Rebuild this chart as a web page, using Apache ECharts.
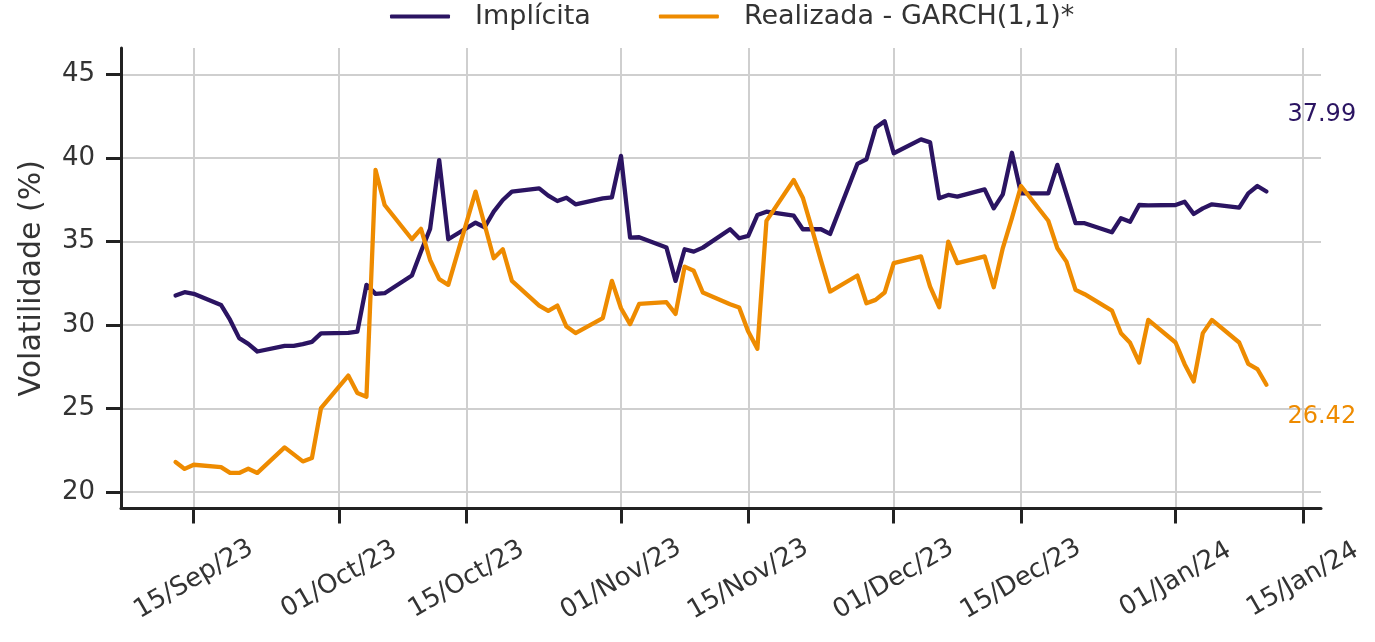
<!DOCTYPE html>
<html>
<head>
<meta charset="utf-8">
<script src="https://cdn.jsdelivr.net/npm/echarts@6/dist/echarts.min.js"></script>
<style>
  html, body { margin: 0; padding: 0; background: #ffffff; }
  #chart { width: 1375px; height: 642px; }
</style>
</head>
<body>
<div id="chart"></div>
<script>
// Trading days (weekdays) covered by the series
const dates = [
  '2023-09-13','2023-09-14','2023-09-15',
  '2023-09-18','2023-09-19','2023-09-20','2023-09-21','2023-09-22',
  '2023-09-25','2023-09-26','2023-09-27','2023-09-28','2023-09-29',
  '2023-10-02','2023-10-03','2023-10-04','2023-10-05','2023-10-06',
  '2023-10-09','2023-10-10','2023-10-11','2023-10-12','2023-10-13',
  '2023-10-16','2023-10-17','2023-10-18','2023-10-19','2023-10-20',
  '2023-10-23','2023-10-24','2023-10-25','2023-10-26','2023-10-27',
  '2023-10-30','2023-10-31','2023-11-01','2023-11-02','2023-11-03',
  '2023-11-06','2023-11-07','2023-11-08','2023-11-09','2023-11-10',
  '2023-11-13','2023-11-14','2023-11-15','2023-11-16','2023-11-17',
  '2023-11-20','2023-11-21','2023-11-22','2023-11-23','2023-11-24',
  '2023-11-27','2023-11-28','2023-11-29','2023-11-30','2023-12-01',
  '2023-12-04','2023-12-05','2023-12-06','2023-12-07','2023-12-08',
  '2023-12-11','2023-12-12','2023-12-13','2023-12-14','2023-12-15',
  '2023-12-18','2023-12-19','2023-12-20','2023-12-21','2023-12-22',
  '2023-12-25','2023-12-26','2023-12-27','2023-12-28','2023-12-29',
  '2024-01-01','2024-01-02','2024-01-03','2024-01-04','2024-01-05',
  '2024-01-08','2024-01-09','2024-01-10','2024-01-11'
];

// Implied volatility (%)
const implicita = [
  31.76, 31.96, 31.86,
  31.20, 30.30, 29.21, 28.87, 28.41,
  28.75, 28.75, 28.85, 28.99, 29.49,
  29.52, 29.60, 32.40, 31.86, 31.90,
  32.96, 34.39, 35.75, 39.87, 35.13,
  36.12, 35.85, 36.78, 37.48, 37.98,
  38.18, 37.74, 37.42, 37.62, 37.22,
  37.58, 37.64, 40.12, 35.23, 35.25,
  34.63, 32.64, 34.53, 34.39, 34.63,
  35.73, 35.19, 35.33, 36.58, 36.78,
  36.54, 35.73, 35.73, 35.73, 35.45,
  39.64, 39.92, 41.80, 42.20, 40.28,
  41.11, 40.93, 37.58, 37.78, 37.68,
  38.12, 36.98, 37.82, 40.31, 37.88,
  37.88, 39.58, 37.84, 36.09, 36.09,
  35.55, 36.39, 36.18, 37.18, 37.16,
  37.18, 37.38, 36.64, 36.98, 37.22,
  37.02, 37.88, 38.32, 37.99
];

// Realized volatility, GARCH(1,1) (%)
const realizada = [
  21.79, 21.38, 21.63,
  21.49, 21.14, 21.14, 21.39, 21.14,
  22.67, 22.25, 21.83, 22.03, 25.02,
  26.97, 25.92, 25.70, 39.28, 37.18,
  35.13, 35.75, 33.89, 32.74, 32.40,
  37.98, 36.00, 33.99, 34.53, 32.64,
  31.16, 30.84, 31.16, 29.90, 29.51,
  30.41, 32.64, 31.00, 30.05, 31.26,
  31.36, 30.66, 33.49, 33.24, 31.94,
  31.24, 31.04, 29.60, 28.57, 36.23,
  38.68, 37.62, 35.77, 33.85, 32.00,
  32.96, 31.30, 31.50, 31.94, 33.70,
  34.10, 32.30, 31.06, 34.99, 33.70,
  34.10, 32.26, 34.60, 36.40, 38.32,
  36.24, 34.59, 33.79, 32.10, 31.84,
  30.86, 29.50, 28.93, 27.75, 30.30,
  28.95, 27.65, 26.62, 29.51, 30.30,
  28.95, 27.67, 27.36, 26.42
];

const seriesNames = ['Implícita', 'Realizada - GARCH(1,1)*'];
const xTickDates = ['2023-09-15','2023-10-01','2023-10-15','2023-11-01','2023-11-15',
                    '2023-12-01','2023-12-15','2024-01-01','2024-01-15'];
const xTickLabels = ['15/Sep/23','01/Oct/23','15/Oct/23','01/Nov/23','15/Nov/23',
                     '01/Dec/23','15/Dec/23','01/Jan/24','15/Jan/24'];
const yTicks = [20, 25, 30, 35, 40, 45];
const xRange = ['2023-09-07', '2024-01-17'];
const yRange = [19.01, 46.58];

const PURPLE = '#2B1462';
const ORANGE = '#EE8B00';
const INK = '#333333';
const FONT = "'DejaVu Sans', sans-serif";
const WEIGHT = 'normal';

// Day timestamps (ms) used as the horizontal coordinate
function ts(s) {
  const [y, m, d] = s.split('-').map(Number);
  return Date.UTC(y, m - 1, d);
}

const tickTimes = xTickDates.map(ts);
const pairs = vals => dates.map((d, i) => [ts(d), vals[i]]);

function lineSeries(name, vals, color, labelOffset) {
  return {
    name: name,
    type: 'line',
    data: pairs(vals),
    showSymbol: false,
    symbol: 'none',
    color: color,
    lineStyle: { width: 4.3, color: color, cap: 'round', join: 'round' },
    endLabel: {
      show: true,
      distance: 0,
      offset: labelOffset,
      formatter: p => p.value[1].toFixed(2),
      color: color,
      fontSize: 24,
      fontFamily: FONT,
      fontWeight: WEIGHT
    },
    z: 3
  };
}

const chart = echarts.init(document.getElementById('chart'), null, { renderer: 'canvas' });

chart.setOption({
  animation: false,
  backgroundColor: '#ffffff',
  textStyle: { fontFamily: FONT, fontWeight: WEIGHT, color: INK },
  legend: {
    data: seriesNames,
    left: 390,
    top: 3,
    padding: 0,
    icon: 'roundRect',
    itemWidth: 60,
    itemHeight: 4,
    itemGap: 68,
    textStyle: {
      fontSize: 27, color: INK, fontFamily: FONT, fontWeight: WEIGHT,
      padding: [0, 0, 0, 20]
    }
  },
  grid: { left: 121, right: 54, top: 48, bottom: 133.5, containLabel: false },
  xAxis: {
    type: 'value',
    min: ts(xRange[0]),
    max: ts(xRange[1]),
    axisLine: { show: true, onZero: false, lineStyle: { color: '#222222', width: 3 } },
    axisTick: {
      show: true, inside: false, length: 15,
      customValues: tickTimes,
      lineStyle: { color: '#222222', width: 3 }
    },
    axisLabel: {
      show: true,
      customValues: tickTimes,
      rotate: 30,
      align: 'center',
      verticalAlign: 'middle',
      margin: 71,
      fontSize: 26,
      color: INK,
      fontFamily: FONT,
      fontWeight: WEIGHT,
      formatter: v => {
        const i = tickTimes.indexOf(v);
        return i >= 0 ? xTickLabels[i] : '';
      }
    },
    splitLine: { show: true, lineStyle: { color: '#cfcfcf', width: 2 } }
  },
  yAxis: {
    type: 'value',
    min: yRange[0],
    max: yRange[1],
    name: 'Volatilidade (%)',
    nameLocation: 'middle',
    nameGap: 74,
    nameRotate: 90,
    nameTextStyle: { fontSize: 30, color: INK, fontFamily: FONT, fontWeight: WEIGHT },
    axisLine: { show: true, onZero: false, lineStyle: { color: '#222222', width: 3 } },
    axisTick: {
      show: true, inside: false, length: 15,
      customValues: yTicks,
      lineStyle: { color: '#222222', width: 3 }
    },
    axisLabel: {
      show: true,
      customValues: yTicks,
      margin: 26,
      fontSize: 26,
      color: INK,
      fontFamily: FONT,
      fontWeight: WEIGHT
    },
    splitLine: { show: true, lineStyle: { color: '#cfcfcf', width: 2 } }
  },
  series: [
    lineSeries(seriesNames[0], implicita, PURPLE, [21, -77]),
    lineSeries(seriesNames[1], realizada, ORANGE, [21, 32])
  ]
});
</script>
</body>
</html>
